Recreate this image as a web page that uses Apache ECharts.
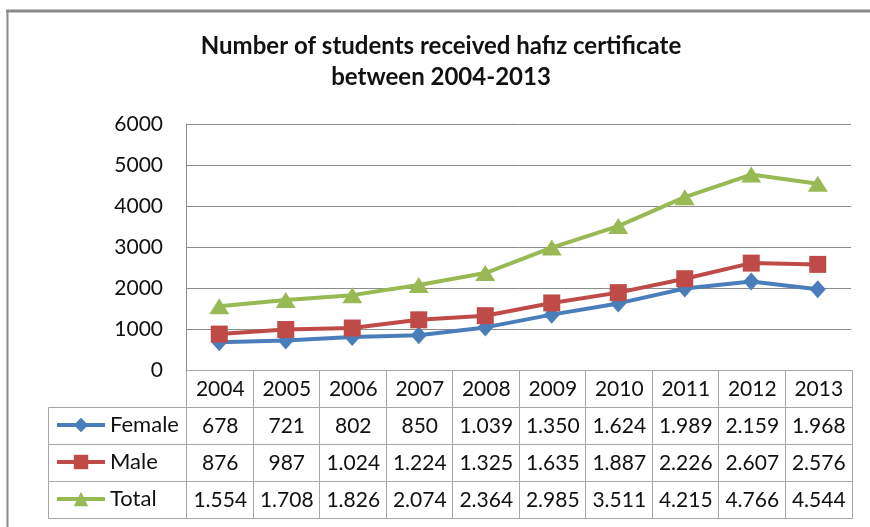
<!DOCTYPE html>
<html>
<head>
<meta charset="utf-8">
<script src="https://cdn.jsdelivr.net/npm/echarts@6/dist/echarts.min.js"></script>
<style>
html,body{margin:0;padding:0;background:#fff;}
#chart{width:870px;height:527px;}
</style>
</head>
<body>
<div id="chart"></div>
<script>
var years = ['2004','2005','2006','2007','2008','2009','2010','2011','2012','2013'];
var female = [678, 721, 802, 850, 1039, 1350, 1624, 1989, 2159, 1968];
var male = [876, 987, 1024, 1224, 1325, 1635, 1887, 2226, 2607, 2576];
var total = [1554, 1708, 1826, 2074, 2364, 2985, 3511, 4215, 4766, 4544];
var seriesNames = ['Female', 'Male', 'Total'];
var yTicks = [0, 1000, 2000, 3000, 4000, 5000, 6000];

var colors = ['#4A7EBB', '#BE4B48', '#98B954'];
var FONT = 'Lato, "Noto Sans", sans-serif';
var TXT = '#111';
var GRID_LINE = '#8c8c8c';
var TABLE_LINE = '#a6a6a6';

function fmt(v) {
  if (v >= 1000) {
    var r = String(v % 1000);
    while (r.length < 3) r = '0' + r;
    return Math.floor(v / 1000) + '.' + r;
  }
  return String(v);
}

var tableRows = [years, female.map(fmt), male.map(fmt), total.map(fmt)];
var tableData = [];
for (var r = 0; r < tableRows.length; r++) {
  for (var c = 0; c < years.length; c++) tableData.push([c, r]);
}

var chart = echarts.init(document.getElementById('chart'));

function legendAt(name, top) {
  return {
    data: [name], left: 55, top: top, padding: 0, orient: 'vertical',
    itemWidth: 48, itemHeight: 18, itemGap: 0,
    lineStyle: { width: 4 },
    textStyle: { fontFamily: FONT, fontSize: 22, color: TXT, lineHeight: 22 },
    selectedMode: false
  };
}

var option = {
  animation: false,
  backgroundColor: '#fff',
  title: {
    text: 'Number of students received hafız certificate\nbetween 2004-2013',
    left: 441, top: 31, textAlign: 'center', padding: 0,
    textStyle: { fontFamily: FONT, fontSize: 24, fontWeight: 'bold', color: TXT, lineHeight: 31 }
  },
  legend: [legendAt('Female', 414), legendAt('Male', 451), legendAt('Total', 488)],
  grid: [
    { left: 186, right: 19, top: 124, height: 246 },
    { left: 186, right: 19, top: 370, height: 148 }
  ],
  xAxis: [
    { type: 'category', gridIndex: 0, data: years, boundaryGap: true,
      axisLine: { show: true, lineStyle: { color: GRID_LINE, width: 1 } },
      axisTick: { show: false }, axisLabel: { show: false }, splitLine: { show: false } },
    { type: 'category', gridIndex: 1, data: years, boundaryGap: true, show: false }
  ],
  yAxis: [
    { type: 'value', gridIndex: 0, min: yTicks[0], max: yTicks[yTicks.length - 1], interval: 1000,
      axisLine: { show: true, lineStyle: { color: GRID_LINE, width: 1 } },
      axisTick: { show: false },
      axisLabel: { margin: 23, fontFamily: FONT, fontSize: 21, color: TXT,
        formatter: function (v) { return String(v); } },
      splitLine: { show: true, lineStyle: { color: GRID_LINE, width: 1 } } },
    { type: 'category', gridIndex: 1, data: ['', 'Female', 'Male', 'Total'], inverse: true, show: false }
  ],
  series: [
    { name: 'Female', type: 'line', data: female, xAxisIndex: 0, yAxisIndex: 0,
      symbol: 'diamond', symbolSize: [16, 18], color: colors[0],
      lineStyle: { width: 4, color: colors[0] }, itemStyle: { color: colors[0] }, z: 3 },
    { name: 'Male', type: 'line', data: male, xAxisIndex: 0, yAxisIndex: 0,
      symbol: 'rect', symbolSize: [17, 17], color: colors[1],
      lineStyle: { width: 4, color: colors[1] }, itemStyle: { color: colors[1] }, z: 4 },
    { name: 'Total', type: 'line', data: total, xAxisIndex: 0, yAxisIndex: 0,
      symbol: 'triangle', symbolSize: [20, 16], color: colors[2],
      lineStyle: { width: 4, color: colors[2] }, itemStyle: { color: colors[2] }, z: 5 },
    { name: 'table', type: 'custom', xAxisIndex: 1, yAxisIndex: 1, data: tableData, z: 1, silent: true,
      renderItem: function (params, api) {
        var c = api.value(0), r = api.value(1);
        var p = api.coord([c, r]);
        var s = api.size([1, 1]);
        var x0 = Math.round(p[0] - s[0] / 2) + 0.5;
        var y0 = Math.round(p[1] - s[1] / 2) + 0.5;
        var w = Math.round(s[0]), h = Math.round(s[1]);
        var children = [
          { type: 'rect', shape: { x: x0, y: y0, width: w, height: h },
            style: { fill: '#fff', stroke: TABLE_LINE, lineWidth: 1 } },
          { type: 'text', style: { text: tableRows[r][c], x: p[0] + 1, y: p[1] + 1,
              align: 'center', verticalAlign: 'middle',
              font: '21px ' + FONT, fill: TXT } }
        ];
        if (c === 0 && r > 0) {
          var lw = Math.round(s[0] * 2.07);
          children.push({ type: 'rect', shape: { x: x0 - lw, y: y0, width: lw, height: h },
            style: { fill: 'none', stroke: TABLE_LINE, lineWidth: 1 } });
        }
        return { type: 'group', children: children };
      }
    }
  ],
  graphic: [
    { type: 'line', shape: { x1: 6, y1: 11, x2: 870, y2: 11 }, style: { stroke: '#8a8a8a', lineWidth: 3 }, z: 10 },
    { type: 'line', shape: { x1: 7.5, y1: 10, x2: 7.5, y2: 527 }, style: { stroke: '#8a8a8a', lineWidth: 2 }, z: 10 }
  ]
};
chart.setOption(option);
</script>
</body>
</html>
